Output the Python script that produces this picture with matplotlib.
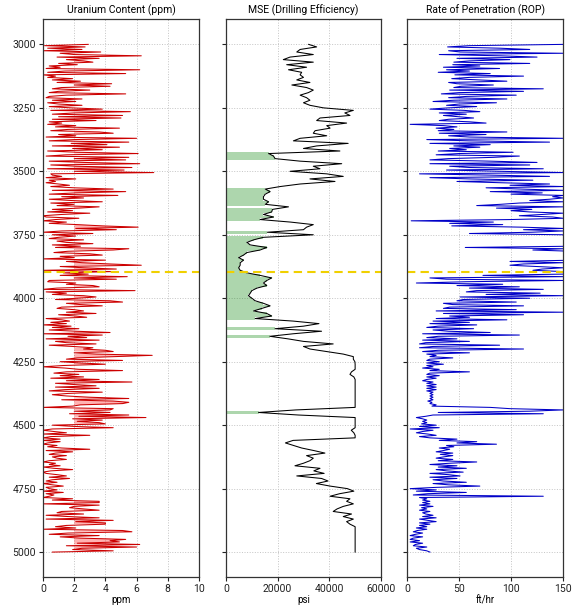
import numpy as np
import matplotlib
matplotlib.use("Agg")
import matplotlib.pyplot as plt

plt.rcParams['font.family'] = ['Roboto', 'DejaVu Sans']

# ---- data -------------------------------------------------------------
# fine logs (uranium, ROP) sampled every 5 ft; MSE every 10 ft
fine_start, fine_stop, fine_step = 3000, 5000, 5
mse_start, mse_stop, mse_step = 3000, 5000, 10

uranium_ppm = [
    2.9, 0.1, 2.7, 0.3, 2.5, 0.0, 3.7, 1.1, 2.0, 6.3,   # 3000
    0.9, 3.6, 1.5, 2.6, 3.2, 1.0, 2.2, 0.4, 1.1, 0.2,   # 3050
    6.2, 1.4, 0.3, 5.3, 0.0, 0.8, 0.3, 1.9, 0.6, 2.4,   # 3100
    0.9, 4.4, 2.0, 4.3, 1.2, 0.6, 3.0, 1.0, 0.4, 5.3,   # 3150
    1.5, 0.4, 0.2, 2.5, 0.6, 2.1, 0.3, 1.0, 2.5, 0.4,   # 3200
    1.8, 3.8, 0.5, 5.6, 2.0, 0.6, 5.1, 1.0, 5.0, 0.6,   # 3250
    3.4, 0.4, 1.2, 0.3, 2.1, 0.8, 4.9, 1.6, 0.5, 3.6,   # 3300
    4.5, 1.0, 2.1, 0.2, 6.0, 2.0, 0.4, 5.5, 1.8, 4.1,   # 3350
    0.6, 4.9, 1.9, 3.8, 0.3, 2.2, 6.1, 1.5, 0.2, 5.5,   # 3400
    2.0, 5.3, 0.4, 2.6, 6.2, 0.5, 2.1, 5.7, 0.3, 5.2,   # 3450
    2.0, 7.1, 0.5, 0.6, 1.2, 0.2, 2.1, 0.4, 0.8, 0.2,   # 3500
    1.0, 1.7, 0.5, 2.0, 4.5, 0.6, 5.3, 2.1, 0.4, 4.8,   # 3550
    1.2, 2.6, 0.4, 1.8, 3.8, 0.5, 2.0, 0.9, 3.6, 2.3,   # 3600
    0.6, 1.9, 0.3, 3.0, 1.2, 0.0, 0.2, 2.3, 0.8, 0.0,   # 3650
    1.5, 0.4, 2.2, 3.8, 6.1, 2.1, 4.7, 1.2, 0.0, 3.2,   # 3700
    0.6, 2.1, 1.0, 0.4, 2.6, 0.9, 1.5, 3.2, 0.6, 2.4,   # 3750
    0.8, 5.5, 4.5, 1.6, 0.7, 3.0, 3.8, 1.1, 2.0, 0.0,   # 3800
    4.0, 1.5, 2.5, 4.3, 6.3, 1.1, 2.6, 4.7, 0.0, 4.4,   # 3850
    1.3, 2.9, 1.1, 5.4, 2.0, 4.7, 0.4, 0.3, 2.1, 1.5,   # 3900
    3.2, 3.6, 0.9, 0.0, 5.9, 0.2, 1.5, 0.6, 2.6, 3.4,   # 3950
    2.2, 0.8, 4.3, 5.1, 1.5, 2.4, 3.8, 1.2, 0.9, 2.0,   # 4000
    2.6, 1.5, 3.4, 1.0, 2.1, 2.8, 0.2, 1.2, 1.7, 0.5,   # 4050
    1.5, 0.0, 1.8, 0.6, 2.3, 0.4, 2.1, 4.3, 0.0, 3.8,   # 4100
    1.6, 2.8, 0.2, 3.6, 0.8, 1.5, 3.4, 0.4, 1.9, 3.2,   # 4150
    2.6, 4.0, 4.5, 2.0, 3.4, 7.0, 4.7, 2.2, 1.5, 5.1,   # 4200
    1.1, 2.4, 4.0, 1.3, 0.0, 1.4, 2.3, 5.1, 1.5, 0.7,   # 4250
    2.3, 1.1, 2.6, 0.5, 3.6, 1.5, 5.7, 0.8, 2.0, 3.4,   # 4300
    0.8, 3.6, 1.4, 0.4, 3.8, 1.6, 0.6, 1.5, 3.0, 5.5,   # 4350
    1.2, 4.5, 5.5, 5.1, 2.4, 1.9, 0.0, 4.5, 4.3, 2.0,   # 4400
    4.3, 1.7, 5.5, 2.3, 6.6, 1.9, 3.8, 2.2, 3.6, 4.0,   # 4450
    0.6, 2.0, 4.5, 0.6, 0.0, 0.7, 1.5, 0.0, 3.0, 0.5,   # 4500
    0.0, 1.1, 0.0, 1.1, 0.3, 0.0, 0.9, 0.3, 1.2, 3.0,   # 4550
    0.2, 1.9, 0.8, 0.4, 1.5, 0.6, 0.9, 1.5, 0.4, 0.0,   # 4600
    0.8, 0.4, 1.1, 0.0, 0.7, 1.9, 0.5, 0.0, 0.2, 0.9,   # 4650
    1.5, 0.4, 1.7, 0.6, 0.2, 0.9, 0.0, 0.6, 1.3, 0.2,   # 4700
    0.4, 0.9, 0.0, 1.3, 0.2, 0.7, 0.4, 0.0, 1.9, 0.6,   # 4750
    3.6, 3.6, 0.0, 3.6, 2.0, 1.7, 2.6, 3.6, 1.2, 0.9,   # 4800
    2.6, 0.2, 1.6, 3.6, 0.2, 4.5, 2.1, 4.0, 4.0, 1.5,   # 4850
    0.8, 2.1, 0.0, 5.1, 5.7, 1.6, 0.4, 3.6, 1.1, 2.4,   # 4900
    5.3, 4.3, 4.9, 2.2, 6.2, 1.5, 6.0, 2.5, 1.9, 4.5,   # 4950
    0.6,                                                 # 5000
]

rop_fthr = [
    150, 60, 39, 89, 118, 40, 51, 150, 31, 90,          # 3000
    125, 48, 99, 60, 45, 118, 44, 70, 35, 89,           # 3050
    38, 60, 30, 80, 46, 112, 60, 43, 70, 96,            # 3100
    40, 48, 83, 52, 45, 131, 41, 112, 50, 33,           # 3150
    105, 57, 40, 96, 45, 25, 86, 50, 38, 67,            # 3200
    40, 22, 55, 70, 31, 57, 35, 50, 64, 40,             # 3250
    31, 60, 76, 3, 35, 48, 28, 45, 30, 96,              # 3300
    31, 76, 40, 60, 150, 19, 60, 137, 22, 80,           # 3350
    45, 70, 41, 57, 30, 102, 50, 28, 108, 83,           # 3400
    40, 22, 80, 125, 22, 118, 41, 60, 131, 38,          # 3450
    90, 150, 12, 80, 137, 22, 60, 121, 48, 90,          # 3500
    137, 99, 150, 76, 110, 150, 80, 130, 100, 150,      # 3550
    140, 150, 137, 118, 150, 108, 90, 67, 150, 86,      # 3600
    120, 100, 118, 150, 130, 108, 140, 150, 100, 4,     # 3650
    83, 41, 92, 43, 110, 150, 112, 150, 120, 60,        # 3700
    150, 165, 180, 190, 175, 185, 170, 190, 175, 160,   # 3750
    56, 150, 121, 160, 180, 190, 175, 185, 190, 170,    # 3800
    160, 99, 150, 112, 99, 125, 150, 130, 121, 150,     # 3850
    160, 150, 73, 150, 22, 38, 150, 57, 9, 92,          # 3900
    48, 108, 60, 131, 67, 57, 128, 76, 150, 51,         # 3950
    118, 54, 48, 105, 35, 44, 112, 41, 35, 105,         # 4000
    28, 150, 35, 112, 41, 60, 28, 96, 25, 60,           # 4050
    22, 67, 30, 19, 64, 25, 40, 80, 15, 108,            # 4100
    30, 19, 48, 15, 60, 18, 12, 89, 25, 12,             # 4150
    112, 30, 15, 60, 19, 28, 22, 44, 22, 19,            # 4200
    31, 19, 35, 19, 25, 15, 31, 22, 60, 22,             # 4250
    19, 31, 19, 28, 19, 15, 25, 19, 28, 19,             # 4300
    28, 19, 28, 19, 25, 22, 25, 22, 25, 22,             # 4350
    25, 20, 24, 22, 28, 24, 80, 99, 150, 118,           # 4400
    30, 131, 25, 18, 9, 15, 19, 15, 19, 14,             # 4450
    28, 12, 31, 3, 25, 15, 9, 20, 28, 12,               # 4500
    22, 48, 31, 67, 48, 86, 38, 45, 31, 41,             # 4550
    35, 28, 44, 32, 44, 35, 28, 44, 30, 67,             # 4600
    41, 22, 48, 30, 57, 28, 38, 54, 22, 40,             # 4650
    51, 22, 48, 25, 35, 57, 25, 40, 70, 28,             # 4700
    3, 28, 9, 57, 20, 6, 131, 12, 19, 15,               # 4750
    22, 15, 22, 12, 25, 14, 19, 12, 22, 15,             # 4800
    18, 25, 15, 28, 12, 20, 28, 12, 22, 12,             # 4850
    19, 9, 19, 10, 6, 15, 8, 3, 15, 6,                  # 4900
    3, 12, 3, 15, 8, 6, 19, 9, 12, 19,                  # 4950
    22,                                                  # 5000
]

mse_psi = [
    32000, 35100, 28700, 27400, 33800, 24800, 22200, 33800, 23500, 31200,  # 3000
    24200, 29300, 28700, 30000, 27400, 32500, 25500, 31200, 33800, 31900,  # 3100
    28700, 31200, 32500, 30000, 32500, 37700, 49300, 46000, 48000, 36400,  # 3200
    35100, 46700, 39000, 40300, 34500, 33800, 39000, 28700, 26100, 47300,  # 3300
    35100, 30000, 44100, 16500, 18400, 19000, 28700, 44800, 33800, 36400,  # 3400
    24800, 39000, 45400, 32500, 42200, 28700, 21000, 15200, 17100, 15200,  # 3500
    14500, 14500, 16500, 15200, 24200, 18000, 17700, 14500, 18400, 13200,  # 3600
    25000, 33800, 31200, 30000, 16000, 33800, 14500, 10700, 8100, 9400,    # 3700
    15800, 13200, 8100, 6800, 4900, 6800, 5500, 5500, 4900, 5500,          # 3800
    8100, 13200, 17700, 15800, 14500, 15800, 12000, 10000, 9400, 8700,     # 3900
    10000, 11300, 14500, 17100, 13900, 10700, 15800, 17700, 11300, 26000,  # 4000
    36000, 30000, 19000, 37000, 26000, 17000, 24000, 30000, 41500, 30000,  # 4100
    32500, 39000, 45400, 49300, 49300, 49900, 50000, 50000, 50000, 48600,  # 4200
    48000, 49500, 50000, 50000, 50000, 50000, 50000, 50000, 50000, 50000,  # 4300
    50000, 50000, 50000, 50000, 27000, 12600, 28000, 50000, 50000, 50000,  # 4400
    50000, 50000, 48500, 49500, 50000, 50000, 26000, 23000, 26100, 29300,  # 4500
    34000, 38300, 31200, 33800, 32500, 30000, 26700, 36400, 34000, 38000,  # 4600
    27400, 37000, 39500, 35000, 40300, 47000, 49500, 44000, 40300, 48000,  # 4700
    46700, 49300, 45400, 43000, 41500, 48600, 45400, 49300, 46700, 48000,  # 4800
    50000, 50000, 50000, 50000, 50000, 50000, 50000, 50000, 50000, 50000,  # 4900
    50000,                                                                  # 5000
]

mse_threshold = 20000
uranium_base = 2.0
marker_depth = 3895

# ---- plotting ---------------------------------------------------------
depth_f = np.arange(fine_start, fine_stop + 1, fine_step)
depth_m = np.arange(mse_start, mse_stop + 1, mse_step)
U = np.array(uranium_ppm, dtype=float)
R = np.array(rop_fthr, dtype=float)
M = np.array(mse_psi, dtype=float)

fig = plt.figure(figsize=(5.74, 6.05), dpi=100)
bottom, height = 0.0455, 0.9231
ax1 = fig.add_axes([0.0749, bottom, 0.2718, height])
ax2 = fig.add_axes([0.3937, bottom, 0.2700, height], sharey=ax1)
ax3 = fig.add_axes([0.7091, bottom, 0.2718, height], sharey=ax1)

title_kw = dict(fontsize=7.5, pad=4)
xlabel_kw = dict(fontsize=7, labelpad=0.5)
grid_kw = dict(color='#c4c4c4', linestyle=':', linewidth=0.7)

# Uranium
ax1.fill_betweenx(depth_f, uranium_base, U, where=U > uranium_base,
                  color='red', alpha=0.3, lw=0)
ax1.plot(U, depth_f, color='#cc0000', lw=0.75)
ax1.set_xlim(0, 10)
ax1.set_xticks([0, 2, 4, 6, 8, 10])
ax1.set_title('Uranium Content (ppm)', **title_kw)
ax1.set_xlabel('ppm', **xlabel_kw)

# MSE: shade the efficient (low-MSE) intervals
mse_low = np.where(M < mse_threshold, M, 0.0)
ax2.fill_betweenx(depth_m, 0, mse_low, step='mid', color='green', alpha=0.32, lw=0)
ax2.plot(M, depth_m, color='black', lw=0.75)
ax2.set_xlim(0, 60000)
ax2.set_xticks([0, 20000, 40000, 60000])
ax2.set_title('MSE (Drilling Efficiency)', **title_kw)
ax2.set_xlabel('psi', **xlabel_kw)

# ROP
ax3.plot(R, depth_f, color='#0000c8', lw=0.75)
ax3.set_xlim(0, 150)
ax3.set_xticks([0, 50, 100, 150])
ax3.set_title('Rate of Penetration (ROP)', **title_kw)
ax3.set_xlabel('ft/hr', **xlabel_kw)

ax1.set_ylim(5100, 2900)
ax1.set_yticks([3000, 3250, 3500, 3750, 4000, 4250, 4500, 4750, 5000])

for ax in (ax1, ax2, ax3):
    ax.grid(True, **grid_kw)
    ax.set_axisbelow(True)
    ax.axhline(marker_depth, color='#f0d000', linestyle='--', lw=1.5, dashes=(4, 2.5))
    ax.tick_params(labelsize=7.5, length=3, width=0.8, pad=2, colors='#222222')
    for s in ax.spines.values():
        s.set_color('#333333')
        s.set_linewidth(0.9)
for ax in (ax2, ax3):
    ax.tick_params(labelleft=False)

fig.savefig('out.png', dpi=100)
